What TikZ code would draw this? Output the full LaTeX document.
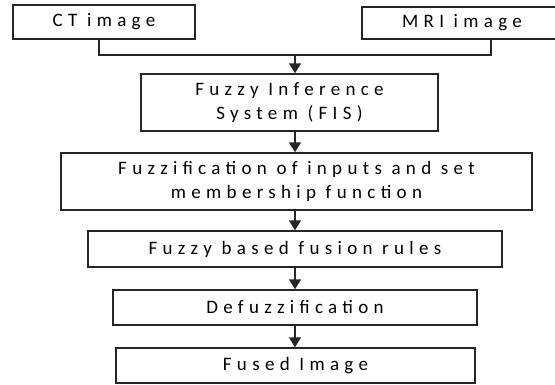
\documentclass[tikz,border=0pt]{standalone}
\usepackage{fontspec}
\usepackage{tikz}
\usetikzlibrary{arrows.meta,positioning}
\newfontfamily\boxfont{Carlito}[LetterSpace=28]

\begin{document}
\begin{tikzpicture}[
  x=1pt, y=-1pt,
  font=\boxfont\fontsize{19}{24}\selectfont,
  box/.style={draw=black!85, line width=1.4pt, align=center, inner sep=0pt},
  ln/.style={line width=1.5pt, draw=black!85},
  ar/.style={ln, -{Triangle[length=10pt,width=12pt]}}
]
  \useasboundingbox (0,0) rectangle (555,385);
  \node[box, minimum width=182, minimum height=34] (ct) at (104,22) {CT image};
  \node[box, minimum width=200, minimum height=32] (mri) at (462,23) {MRI image};
  \node[box, minimum width=297, minimum height=57] (fis) at (289.5,102.5) {Fuzzy Inference\\System (FIS)};
  \node[box, minimum width=471, minimum height=57] (fuzz) at (296.5,181.5) {Fuzzification of inputs and set\\membership function};
  \node[box, minimum width=414, minimum height=36] (rules) at (295,249) {Fuzzy based fusion rules};
  \node[box, minimum width=364, minimum height=35] (defuzz) at (295,307.5) {Defuzzification};
  \node[box, minimum width=359, minimum height=35] (fused) at (295.5,365.5) {Fused Image};

  \coordinate (ctx) at (99,55);
  \coordinate (mrix) at (491,55);
  \coordinate (mid) at (295,55);
  \draw[ln] (ctx |- ct.south) -- (ctx) -- (mrix) -- (mrix |- mri.south);
  \draw[ar] (mid) -- (mid |- fis.north);
  \draw[ar] (fis.south -| mid) -- (fuzz.north -| mid);
  \draw[ar] (fuzz.south -| mid) -- (rules.north -| mid);
  \draw[ar] (rules.south -| mid) -- (defuzz.north -| mid);
  \draw[ar] (defuzz.south -| mid) -- (fused.north -| mid);
\end{tikzpicture}
\end{document}
